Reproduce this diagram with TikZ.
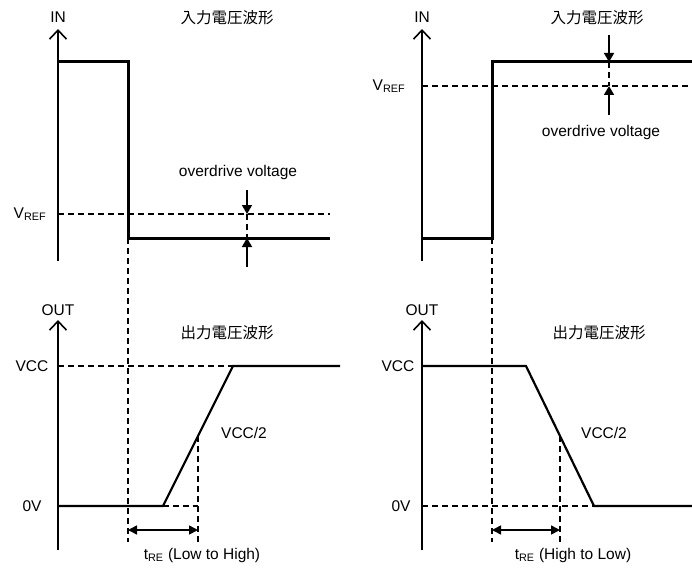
\documentclass[tikz,border=0pt]{standalone}
\usepackage{fontspec}
\setmainfont{Liberation Sans}
\newfontfamily\jpfont{Noto Sans CJK JP}
\usetikzlibrary{arrows.meta}
\tikzset{
  txt/.style={inner sep=0pt, font=\fontsize{15.5}{18}\selectfont},
  axis/.style={line width=1.6pt, -{Straight Barb[length=9pt,width=17pt,line width=1.6pt]}},
  inwave/.style={line width=3pt, line join=miter},
  outwave/.style={line width=2.2pt},
  guide/.style={line width=1.3pt, dash pattern=on 6pt off 4pt},
  odarrow/.style={line width=1.6pt, -{Triangle[length=9pt,width=10pt]}},
  tarrow/.style={line width=1.6pt, {Triangle[length=9pt,width=9pt]}-{Triangle[length=9pt,width=9pt]}},
}
\begin{document}
\begin{tikzpicture}[x=1pt, y=-1pt]
    \useasboundingbox (0,0) rectangle (692,567);
    % labels, left side
        \node[txt] (inL) at (58,17) {IN};
        \node[txt] (titleinL) at (227,18) {\jpfont 入力電圧波形};
        \node[txt] (vrefL) at (30,214) {V\textsubscript{REF}};
        \node[txt] (odL) at (238,172) {overdrive voltage};
        \node[txt] (outL) at (58,310) {OUT};
        \node[txt] (titleoutL) at (227,333) {\jpfont 出力電圧波形};
        \node[txt] (vccL) at (32,366) {VCC};
        \node[txt] (zeroL) at (32,506) {0V};
        \node[txt] (halfL) at (244,433) {VCC/2};
        \node[txt] (treL) at (202,555) {t\textsubscript{RE} (Low to High)};
    % labels, right side
        \node[txt] (inR) at (422,17) {IN};
        \node[txt] (titleinR) at (597,18) {\jpfont 入力電圧波形};
        \node[txt] (vrefR) at (389,86) {V\textsubscript{REF}};
        \node[txt] (odR) at (601,132) {overdrive voltage};
        \node[txt] (outR) at (422,310) {OUT};
        \node[txt] (titleoutR) at (599,333) {\jpfont 出力電圧波形};
        \node[txt] (vccR) at (398,366) {VCC};
        \node[txt] (zeroR) at (401,506) {0V};
        \node[txt] (halfR) at (604,433) {VCC/2};
        \node[txt] (treR) at (573,555) {t\textsubscript{RE} (High to Low)};
    % axes
        \draw[axis] (58,261) -- (58,29);
        \draw[axis] (58,550) -- (58,320);
        \draw[axis] (422,261) -- (422,29);
        \draw[axis] (422,550) -- (422,320);
    % left: high to low input, rising output
        \draw[guide] (58,214) -- (330,214);
        \draw[guide] (128,238) -- (128,542);
        \draw[guide] (247,214) -- (247,238);
        \draw[inwave] (58,62) -- (128,62) -- (128,238) -- (330,238);
        \draw[odarrow] (247,190) -- (247,214);
        \draw[odarrow] (247,267) -- (247,238);
        \draw[guide] (58,366) -- (233,366);
        \draw[guide] (163,506) -- (198,506);
        \draw[guide] (198,436) -- (198,543);
        \draw[outwave] (58,506) -- (163,506) -- (233,366) -- (340,366);
        \draw[tarrow] (128,530) -- (198,530);
    % right: low to high input, falling output
        \draw[guide] (422,86) -- (692,86);
        \draw[guide] (492,238) -- (492,542);
        \draw[guide] (609,62) -- (609,86);
        \draw[inwave] (422,238) -- (492,238) -- (492,62) -- (692,62);
        \draw[odarrow] (609,35) -- (609,62);
        \draw[odarrow] (609,115) -- (609,86);
        \draw[guide] (422,506) -- (594,506);
        \draw[guide] (560,436) -- (560,543);
        \draw[outwave] (422,366) -- (526,366) -- (594,506) -- (692,506);
        \draw[tarrow] (492,530) -- (560,530);
\end{tikzpicture}
\end{document}
